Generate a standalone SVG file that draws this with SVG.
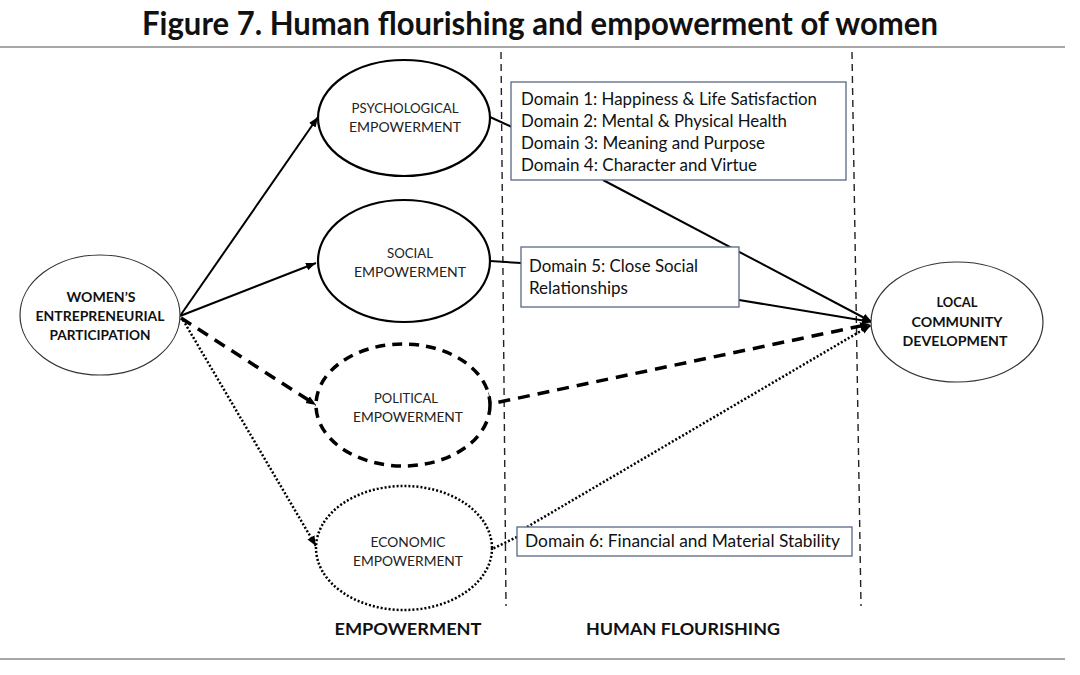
<svg xmlns="http://www.w3.org/2000/svg" width="1080" height="675" viewBox="0 0 1080 675">
<style>
  .title { font-family: Lato, "Liberation Sans", sans-serif; font-weight: bold; font-size: 32px; fill: #111; }
  .lbl { font-family: Lato, "Liberation Sans", sans-serif; font-size: 14px; fill: #222; text-anchor: middle; }
  .lblb { font-family: Lato, "Liberation Sans", sans-serif; font-size: 14px; font-weight: bold; fill: #111; text-anchor: middle; }
  .dom { font-family: Lato, "Liberation Sans", sans-serif; font-size: 17px; fill: #111; }
  .sec { font-family: Lato, "Liberation Sans", sans-serif; font-size: 17.5px; font-weight: bold; fill: #111; text-anchor: middle; }
  .rule { stroke: #8a8a8a; stroke-width: 1.5; fill: none; }
  .vdash { stroke: #222; stroke-width: 1.4; stroke-dasharray: 7 5; fill: none; }
  .solid { stroke: #000; stroke-width: 2; fill: none; }
  .dash { stroke: #000; stroke-width: 3.5; stroke-dasharray: 12 8; fill: none; }
  .dot { stroke: #000; stroke-width: 2.5; stroke-dasharray: 2 2; fill: none; }
  .thin { stroke: #333; stroke-width: 1.2; fill: #fff; }
  .thick { stroke: #000; stroke-width: 2.2; fill: #fff; }
  .ethick { stroke: #000; stroke-width: 3.5; stroke-dasharray: 10 7; fill: #fff; }
  .edot { stroke: #000; stroke-width: 2.5; stroke-dasharray: 2 2; fill: #fff; }
  .box { stroke: #5a6785; stroke-width: 1.3; fill: #fff; }
</style>
<defs>
  <marker id="arr" markerUnits="userSpaceOnUse" markerWidth="12" markerHeight="10" refX="10" refY="5" orient="auto">
    <path d="M0,1 L10,5 L0,9 z" fill="#000"/>
  </marker>
</defs>
<rect width="1080" height="675" fill="#fff"/>
<text class="title" x="540" y="35" text-anchor="middle" textLength="796" lengthAdjust="spacingAndGlyphs">Figure 7. Human flourishing and empowerment of women</text>
<line class="rule" x1="0" y1="47" x2="1065" y2="47"/>
<line class="rule" x1="0" y1="659" x2="1065" y2="659"/>

<g id="section-dividers">
  <line class="vdash" x1="501" y1="52" x2="506" y2="606"/>
  <line class="vdash" x1="852" y1="52" x2="861" y2="606"/>
</g>

<g id="connectors">
  <line class="solid" x1="180" y1="316" x2="318" y2="117" marker-end="url(#arr)"/>
  <line class="solid" x1="180" y1="316" x2="316" y2="263" marker-end="url(#arr)"/>
  <line class="dash" x1="181" y1="318" x2="316" y2="405" marker-end="url(#arr)"/>
  <line class="dot" x1="183" y1="320" x2="316" y2="546" marker-end="url(#arr)"/>
  <line class="solid" x1="490" y1="117" x2="512" y2="127"/>
  <line class="solid" x1="603" y1="180" x2="872" y2="322" marker-end="url(#arr)"/>
  <line class="solid" x1="490" y1="261" x2="521" y2="263"/>
  <line class="solid" x1="739" y1="300" x2="872" y2="322" marker-end="url(#arr)"/>
  <polyline class="dash" points="487,393 490,404 870,324" marker-end="url(#arr)"/>
  <line class="dot" x1="490" y1="550" x2="517" y2="537"/>
  <line class="dot" x1="527" y1="527" x2="871" y2="325" marker-end="url(#arr)"/>
</g>

<g id="node-women">
  <ellipse class="thin" cx="100" cy="315" rx="80" ry="60"/>
  <text class="lblb" x="101" y="302" textLength="69" lengthAdjust="spacingAndGlyphs">WOMEN’S</text>
  <text class="lblb" x="100" y="321" textLength="129" lengthAdjust="spacingAndGlyphs">ENTREPRENEURIAL</text>
  <text class="lblb" x="100" y="340" textLength="101" lengthAdjust="spacingAndGlyphs">PARTICIPATION</text>
</g>

<g id="node-psychological">
  <ellipse class="thick" cx="404" cy="118" rx="86" ry="58"/>
  <text class="lbl" x="405" y="113" textLength="107" lengthAdjust="spacingAndGlyphs">PSYCHOLOGICAL</text>
  <text class="lbl" x="405" y="132" textLength="112" lengthAdjust="spacingAndGlyphs">EMPOWERMENT</text>
</g>

<g id="node-social">
  <ellipse class="thick" cx="404" cy="261" rx="86" ry="61"/>
  <text class="lbl" x="410" y="258" textLength="46" lengthAdjust="spacingAndGlyphs">SOCIAL</text>
  <text class="lbl" x="410" y="277" textLength="112" lengthAdjust="spacingAndGlyphs">EMPOWERMENT</text>
</g>

<g id="node-political">
  <ellipse class="ethick" cx="403" cy="405" rx="87" ry="61"/>
  <text class="lbl" x="406" y="403" textLength="64" lengthAdjust="spacingAndGlyphs">POLITICAL</text>
  <text class="lbl" x="408" y="422" textLength="110" lengthAdjust="spacingAndGlyphs">EMPOWERMENT</text>
</g>

<g id="node-economic">
  <ellipse class="edot" cx="404" cy="548" rx="88" ry="62"/>
  <text class="lbl" x="408" y="547" textLength="75" lengthAdjust="spacingAndGlyphs">ECONOMIC</text>
  <text class="lbl" x="408" y="566" textLength="110" lengthAdjust="spacingAndGlyphs">EMPOWERMENT</text>
</g>

<g id="node-local">
  <ellipse class="thin" cx="957" cy="322" rx="86" ry="60"/>
  <text class="lblb" x="957" y="307" textLength="41" lengthAdjust="spacingAndGlyphs">LOCAL</text>
  <text class="lblb" x="957" y="327" textLength="91" lengthAdjust="spacingAndGlyphs">COMMUNITY</text>
  <text class="lblb" x="955" y="346" textLength="105" lengthAdjust="spacingAndGlyphs">DEVELOPMENT</text>
</g>

<g id="box-domains-1-4">
  <rect class="box" x="511" y="82" width="335" height="98"/>
  <text class="dom" x="521" y="105" textLength="296" lengthAdjust="spacingAndGlyphs">Domain 1: Happiness &amp; Life Satisfaction</text>
  <text class="dom" x="521" y="127" textLength="266" lengthAdjust="spacingAndGlyphs">Domain 2: Mental &amp; Physical Health</text>
  <text class="dom" x="521" y="149" textLength="244" lengthAdjust="spacingAndGlyphs">Domain 3: Meaning and Purpose</text>
  <text class="dom" x="521" y="171" textLength="236" lengthAdjust="spacingAndGlyphs">Domain 4: Character and Virtue</text>
</g>

<g id="box-domain-5">
  <rect class="box" x="521" y="247" width="218" height="60"/>
  <text class="dom" x="529" y="272" textLength="169" lengthAdjust="spacingAndGlyphs">Domain 5: Close Social</text>
  <text class="dom" x="529" y="294" textLength="99" lengthAdjust="spacingAndGlyphs">Relationships</text>
</g>

<g id="box-domain-6">
  <rect class="box" x="517" y="527" width="335" height="29"/>
  <text class="dom" x="525" y="547" textLength="315" lengthAdjust="spacingAndGlyphs">Domain 6: Financial and Material Stability</text>
</g>

<g id="section-labels">
  <text class="sec" x="408" y="635" textLength="147" lengthAdjust="spacingAndGlyphs">EMPOWERMENT</text>
  <text class="sec" x="683" y="635" textLength="194" lengthAdjust="spacingAndGlyphs">HUMAN FLOURISHING</text>
</g>
</svg>
